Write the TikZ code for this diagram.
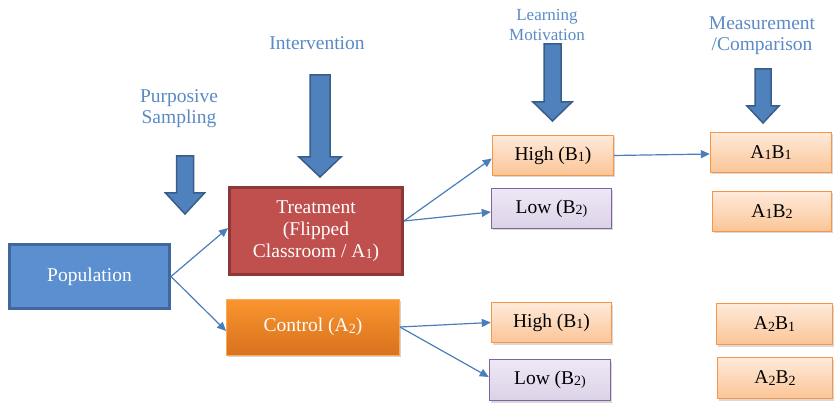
\documentclass[tikz,border=0pt]{standalone}
\usepackage{fontspec}
\setmainfont{Liberation Serif}
\newfontfamily\tnr{Liberation Serif}
\usetikzlibrary{arrows.meta,shadows}
\definecolor{lblblue}{HTML}{5A8AC6}
\definecolor{arrblue}{HTML}{4F81BD}
\definecolor{arrdark}{HTML}{385D8A}
\definecolor{popfill}{HTML}{5B8FD0}
\definecolor{popdraw}{HTML}{41689E}
\definecolor{trfill}{HTML}{C0504D}
\definecolor{trdraw}{HTML}{8C3836}
\definecolor{ortop}{HTML}{FA952F}
\definecolor{orbot}{HTML}{D8721E}
\definecolor{pchtop}{HTML}{FEEADB}
\definecolor{pchbot}{HTML}{FBC596}
\definecolor{pchdraw}{HTML}{F79646}
\definecolor{lavtop}{HTML}{EEE8F5}
\definecolor{lavbot}{HTML}{DCD2E8}
\definecolor{lavdraw}{HTML}{8064A2}
\definecolor{conn}{HTML}{4A7EBB}
\newcommand\lo[1]{\raisebox{-0.15ex}{\fontsize{14}{14}\selectfont #1}}
\newcommand\bdarrow[6]{% x, top, headstart, tip, shaft half, head half
  \draw[blockarr] (#1-#5,#2) -- (#1+#5,#2) -- (#1+#5,#3) -- (#1+#6,#3) -- (#1,#4)
    -- (#1-#6,#3) -- (#1-#5,#3) -- cycle;}
\tikzset{
  base/.style={rectangle, inner sep=1pt, align=center, font=\tnr\fontsize{19.5}{22}\selectfont},
  popbox/.style={base, fill=popfill, draw=popdraw, line width=3pt, text=white},
  trbox/.style={base, fill=trfill, draw=trdraw, line width=3pt, text=white},
  ctrlbox/.style={base, top color=ortop, bottom color=orbot, draw=ortop!80!white, line width=0.8pt, text=white,
    drop shadow={opacity=0.35, shadow xshift=1.5pt, shadow yshift=-2pt}},
  pchbox/.style={base, top color=pchtop, bottom color=pchbot, draw=pchdraw, line width=1.4pt, text=black,
    drop shadow={opacity=0.3, shadow xshift=1.5pt, shadow yshift=-2pt}},
  lavbox/.style={base, top color=lavtop, bottom color=lavbot, draw=lavdraw, line width=1.4pt, text=black,
    drop shadow={opacity=0.3, shadow xshift=1.5pt, shadow yshift=-2pt}},
  lbl/.style={align=center, text=lblblue, inner sep=0pt, font=\tnr\fontsize{19.5}{21}\selectfont},
  blockarr/.style={fill=arrblue, draw=arrdark, line width=1.5pt, line join=miter},
  conarr/.style={draw=conn, line width=1.2pt, -{Triangle[length=9pt,width=8pt]}},
}
\begin{document}
\begin{tikzpicture}[x=1pt,y=-1pt]
\useasboundingbox (0,0) rectangle (835,403);
% block arrows
\bdarrow{185}{156}{193}{214}{8.5}{19.5}
\bdarrow{320}{75}{157}{177}{10}{21}
\bdarrow{552.5}{44}{102}{121}{8.5}{19.5}
\bdarrow{763}{69}{106}{123}{8}{16}
% labels
\node[lbl] (lint) at (317,43) {Intervention};
\node[lbl] (lps) at (179,109) {Purposive\\Sampling};
\node[lbl, font=\tnr\fontsize{17}{20}\selectfont] (llm) at (547,25) {Learning\\Motivation};
\node[lbl] (lmc) at (762,36) {Measurement\\/Comparison};
% boxes
\node[popbox, minimum width=160pt, minimum height=64pt] (pop) at (89.5,276.5) {Population};
\node[trbox, minimum width=173pt, minimum height=87pt] (treat) at (316,231) {Treatment\\(Flipped\\Classroom / A\lo{1})};
\node[ctrlbox, minimum width=173pt, minimum height=56pt] (ctrl) at (313,327) {Control (A\lo{2})};
\node[pchbox, minimum width=121pt, minimum height=40pt] (hi1) at (553,155.5) {High (B\lo{1})};
\node[lavbox, minimum width=120pt, minimum height=40pt] (lo1) at (551.5,208.5) {Low (B\lo{2)}};
\node[pchbox, minimum width=120pt, minimum height=40pt] (hi2) at (551.5,322.5) {High (B\lo{1})};
\node[lavbox, minimum width=121pt, minimum height=41pt] (lo2) at (550,380) {Low (B\lo{2)}};
\node[pchbox, minimum width=121pt, minimum height=40pt] (ab11) at (771,152.5) {A\lo{1}B\lo{1}};
\node[pchbox, minimum width=119pt, minimum height=40pt] (ab12) at (772,211.5) {A\lo{1}B\lo{2}};
\node[pchbox, minimum width=116pt, minimum height=41pt] (ab21) at (774.5,324) {A\lo{2}B\lo{1}};
\node[pchbox, minimum width=115pt, minimum height=41pt] (ab22) at (775,378) {A\lo{2}B\lo{2}};
% connectors
\coordinate (popout) at (pop.east);
\draw[conarr] (popout) -- ([yshift=3pt]treat.west);
\draw[conarr] (popout) -- ([yshift=-4pt]ctrl.west);
\coordinate (trout) at ([yshift=10pt]treat.east);
\draw[conarr] (trout) -- ([yshift=-3pt]hi1.west);
\draw[conarr] (trout) -- ([yshift=-3.5pt]lo1.west);
\coordinate (ctout) at (ctrl.east);
\draw[conarr] (ctout) -- (hi2.west);
\draw[conarr] (ctout) -- ([yshift=3pt]lo2.west);
\draw[conarr] (hi1.east) -- ([yshift=-1.5pt]ab11.west);
\end{tikzpicture}
\end{document}
